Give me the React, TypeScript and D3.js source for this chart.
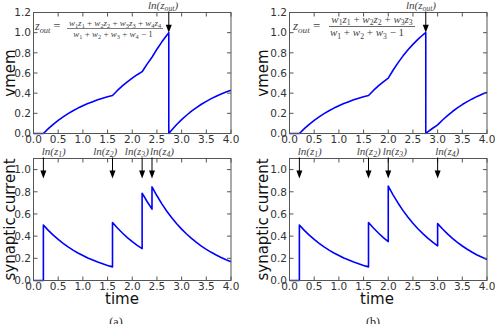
import React from 'react';
import * as d3 from 'd3';

type Pt = [number, number];

const xTicks = [0, 0.5, 1, 1.5, 2, 2.5, 3, 3.5, 4];
const vmemTicks = [0, 0.2, 0.4, 0.6, 0.8, 1.0, 1.2];
const currentTicks = [0, 0.2, 0.4, 0.6, 0.8, 1.0];

// membrane potential, case (a): four inputs
const vmemA: Pt[] = [
  [0, 0], [0.2, 0], [0.3, 0.048], [0.4, 0.091], [0.5, 0.13], [0.6, 0.165], [0.7, 0.197],
  [0.8, 0.226], [0.9, 0.252], [1.0, 0.275], [1.1, 0.297], [1.2, 0.316], [1.3, 0.334],
  [1.4, 0.349], [1.5, 0.364], [1.6, 0.377], [1.7, 0.427], [1.8, 0.472], [1.9, 0.513],
  [2.0, 0.549], [2.1, 0.583], [2.2, 0.613], [2.3, 0.688], [2.4, 0.756], [2.5, 0.836],
  [2.6, 0.909], [2.7, 0.975], [2.74, 1.0], [2.74, 0], [2.8, 0.035], [2.9, 0.089],
  [3.0, 0.137], [3.1, 0.181], [3.2, 0.221], [3.3, 0.257], [3.4, 0.29], [3.5, 0.319],
  [3.6, 0.346], [3.7, 0.37], [3.8, 0.392], [3.9, 0.412], [4.0, 0.43],
];

const currentA: Pt[] = [
  [0, 0], [0.2, 0], [0.2, 0.5], [0.3, 0.452], [0.4, 0.409], [0.5, 0.37], [0.6, 0.335],
  [0.7, 0.303], [0.8, 0.274], [0.9, 0.248], [1.0, 0.225], [1.1, 0.203], [1.2, 0.184],
  [1.3, 0.166], [1.4, 0.151], [1.5, 0.136], [1.6, 0.123], [1.6, 0.523], [1.7, 0.473],
  [1.8, 0.428], [1.9, 0.387], [2.0, 0.351], [2.1, 0.317], [2.2, 0.287], [2.2, 0.787],
  [2.3, 0.712], [2.4, 0.644], [2.4, 0.844], [2.5, 0.764], [2.6, 0.691], [2.7, 0.625],
  [2.8, 0.566], [2.9, 0.512], [3.0, 0.463], [3.1, 0.419], [3.2, 0.379], [3.3, 0.343],
  [3.4, 0.31], [3.5, 0.281], [3.6, 0.254], [3.7, 0.23], [3.8, 0.208], [3.9, 0.188],
  [4.0, 0.17],
];

// case (b): three inputs before the output spike, one after
const vmemB: Pt[] = [
  [0, 0], [0.2, 0], [0.3, 0.048], [0.4, 0.091], [0.5, 0.13], [0.6, 0.165], [0.7, 0.197],
  [0.8, 0.226], [0.9, 0.252], [1.0, 0.275], [1.1, 0.297], [1.2, 0.316], [1.3, 0.334],
  [1.4, 0.349], [1.5, 0.364], [1.6, 0.377], [1.7, 0.427], [1.8, 0.472], [1.9, 0.513],
  [2.0, 0.549], [2.1, 0.63], [2.2, 0.703], [2.3, 0.77], [2.4, 0.83], [2.5, 0.884],
  [2.6, 0.933], [2.7, 0.977], [2.76, 1.0], [2.76, 0], [2.8, 0.016], [2.9, 0.052],
  [3.0, 0.085], [3.1, 0.134], [3.2, 0.178], [3.3, 0.218], [3.4, 0.254], [3.5, 0.287],
  [3.6, 0.316], [3.7, 0.343], [3.8, 0.368], [3.9, 0.389], [4.0, 0.409],
];

const currentB: Pt[] = [
  [0, 0], [0.2, 0], [0.2, 0.5], [0.3, 0.452], [0.4, 0.409], [0.5, 0.37], [0.6, 0.335],
  [0.7, 0.303], [0.8, 0.274], [0.9, 0.248], [1.0, 0.225], [1.1, 0.203], [1.2, 0.184],
  [1.3, 0.166], [1.4, 0.151], [1.5, 0.136], [1.6, 0.123], [1.6, 0.523], [1.7, 0.473],
  [1.8, 0.428], [1.9, 0.387], [2.0, 0.351], [2.0, 0.851], [2.1, 0.77], [2.2, 0.697],
  [2.3, 0.63], [2.4, 0.57], [2.5, 0.516], [2.6, 0.467], [2.7, 0.423], [2.8, 0.382],
  [2.9, 0.346], [3.0, 0.313], [3.0, 0.513], [3.1, 0.464], [3.2, 0.42], [3.3, 0.38],
  [3.4, 0.344], [3.5, 0.311], [3.6, 0.282], [3.7, 0.255], [3.8, 0.23], [3.9, 0.209],
  [4.0, 0.189],
];

// input spike times (ln z_i) and output spike time (ln z_out)
const inputTimesA = [0.2, 1.6, 2.2, 2.4];
const inputTimesB = [0.2, 1.6, 2.0, 3.0];
const outputTimeA = 2.74;
const outputTimeB = 2.76;

// where each arrow label starts, in time units
const inputLabelAtA = [0.166, 1.21, 1.85, 2.36];
const inputLabelAtB = [0.166, 1.36, 1.89, 2.95];
const outputLabelAtA = 2.32;
const outputLabelAtB = 2.36;

const BLUE = '#0000ff';
const FRAME = '#555';
const SANS = 'DejaVu Sans, sans-serif';
const SERIF = 'Liberation Serif, serif';

type Run = { t: string; it?: boolean; sub?: boolean };

function MathText({ runs, x, y, size, anchor = 'start', fill = '#444' }:
  { runs: Run[]; x: number; y: number; size: number; anchor?: string; fill?: string }) {
  let shift = 0;
  const d = size * 0.25;
  return (
    <text x={x} y={y} fontSize={size} fontFamily={SERIF} fill={fill} textAnchor={anchor}
      style={{ whiteSpace: 'pre' }}>
      {runs.map((r, i) => {
        const target = r.sub ? d : 0;
        const dy = target - shift;
        shift = target;
        return (
          <tspan key={i} dy={dy !== 0 ? dy : undefined}
            fontStyle={r.it ? 'italic' : 'normal'}
            fontSize={r.sub ? size * 0.7 : undefined}>{r.t}</tspan>
        );
      })}
    </text>
  );
}

const lnz = (sub: string): Run[] => [{ t: 'ln(z', it: true }, { t: sub, it: true, sub: true }, { t: ')', it: true }];
const wz = (i: number): Run[] => [
  { t: 'w', it: true }, { t: String(i), sub: true }, { t: 'z', it: true }, { t: String(i), sub: true },
];
const w = (i: number): Run[] => [{ t: 'w', it: true }, { t: String(i), sub: true }];
const joinPlus = (parts: Run[][]): Run[] =>
  parts.flatMap((p, i) => (i === 0 ? p : [{ t: ' + ' }, ...p]));

function Arrow({ x, y1, y2 }: { x: number; y1: number; y2: number }) {
  const head = 8;
  return (
    <g>
      <line x1={x} x2={x} y1={y1} y2={y2 - head + 1} stroke="#000" strokeWidth={1} />
      <polygon points={`${x - 3},${y2 - head} ${x + 3},${y2 - head} ${x},${y2}`} fill="#000" />
    </g>
  );
}

type PanelProps = {
  x0: number; x1: number; y0: number; y1: number; yMax: number;
  yTicks: number[]; data: Pt[]; yLabel: string; yLabelX: number;
  children?: (sx: d3.ScaleLinear<number, number>, sy: d3.ScaleLinear<number, number>) => React.ReactNode;
};

function Panel({ x0, x1, y0, y1, yMax, yTicks, data, yLabel, yLabelX, children }: PanelProps) {
  const sx = d3.scaleLinear().domain([0, 4]).range([x0, x1]);
  const sy = d3.scaleLinear().domain([0, yMax]).range([y1, y0]);
  const line = d3.line<Pt>().x(d => sx(d[0])).y(d => sy(d[1]));
  const tk = 4;
  return (
    <g>
      <path d={line(data) ?? ''} fill="none" stroke={BLUE} strokeWidth={1.6} strokeLinejoin="round" />
      <rect x={x0} y={y0} width={x1 - x0} height={y1 - y0} fill="none" stroke={FRAME} strokeWidth={1} />
      {xTicks.map(t => (
        <g key={'x' + t}>
          <line x1={sx(t)} x2={sx(t)} y1={y1} y2={y1 - tk} stroke={FRAME} />
          <line x1={sx(t)} x2={sx(t)} y1={y0} y2={y0 + tk} stroke={FRAME} />
          <text x={sx(t)} y={y1 + 9} fontSize={10.5} fontFamily={SANS} fill="#333"
            textAnchor="middle">{t.toFixed(1)}</text>
        </g>
      ))}
      {yTicks.map(t => (
        <g key={'y' + t}>
          <line x1={x0} x2={x0 + tk} y1={sy(t)} y2={sy(t)} stroke={FRAME} />
          <line x1={x1} x2={x1 - tk} y1={sy(t)} y2={sy(t)} stroke={FRAME} />
          <text x={x0 - 2.5} y={sy(t) + 3.8} fontSize={10.5} fontFamily={SANS} fill="#333"
            textAnchor="end">{t.toFixed(1)}</text>
        </g>
      ))}
      <text transform={`translate(${yLabelX},${(y0 + y1) / 2}) rotate(-90)`} fontSize={15}
        fontFamily={SANS} fill="#111" textAnchor="middle">{yLabel}</text>
      {children && children(sx, sy)}
    </g>
  );
}

export default function App() {
  const L = { x0: 33.5, x1: 231 };
  const R = { x0: 289.5, x1: 487 };
  const top = { y0: 12.5, y1: 133.5, yMax: 1.2, yTicks: vmemTicks, yLabel: 'vmem' };
  const bot = { y0: 158.5, y1: 280.5, yMax: 1.1, yTicks: currentTicks, yLabel: 'synaptic current' };

  const outputArrow = (time: number, labelAt: number) =>
    (sx: d3.ScaleLinear<number, number>, sy: d3.ScaleLinear<number, number>) => (
      <g>
        <Arrow x={sx(time)} y1={top.y0 - 1} y2={sy(1.0)} />
        <MathText runs={lnz('out')} x={sx(labelAt)} y={8.5} size={11} />
      </g>
    );

  const inputArrows = (times: number[], labelAt: number[]) =>
    (sx: d3.ScaleLinear<number, number>, sy: d3.ScaleLinear<number, number>) => (
      <g>
        {times.map((t, i) => (
          <g key={i}>
            <Arrow x={sx(t)} y1={bot.y0 - 1} y2={sy(0.92)} />
            <MathText runs={lnz(String(i + 1))} x={sx(labelAt[i])} y={154.5} size={11} />
          </g>
        ))}
      </g>
    );

  const numA = joinPlus([wz(1), wz(2), wz(3), wz(4)]);
  const denA: Run[] = [...joinPlus([w(1), w(2), w(3), w(4)]), { t: ' − 1' }];
  const numB = joinPlus([wz(1), wz(2), wz(3)]);
  const denB: Run[] = [...joinPlus([w(1), w(2), w(3)]), { t: ' − 1' }];

  return (
    <svg width={495} height={324} style={{ position: 'absolute', left: 0, top: 0, background: '#fff' }}>
      <Panel {...L} {...top} data={vmemA} yLabelX={15}>
        {outputArrow(outputTimeA, outputLabelAtA)}
      </Panel>
      <Panel {...R} {...top} data={vmemB} yLabelX={268}>
        {outputArrow(outputTimeB, outputLabelAtB)}
      </Panel>
      <Panel {...L} {...bot} data={currentA} yLabelX={15}>
        {inputArrows(inputTimesA, inputLabelAtA)}
      </Panel>
      <Panel {...R} {...bot} data={currentB} yLabelX={268}>
        {inputArrows(inputTimesB, inputLabelAtB)}
      </Panel>

      {/* output-time formulas */}
      <MathText runs={[{ t: 'z', it: true }, { t: 'out', it: true, sub: true }, { t: ' =' }]}
        x={35} y={30} size={12} />
      <MathText runs={numA} x={115} y={25.5} size={9} anchor="middle" />
      <line x1={67} x2={163} y1={28.5} y2={28.5} stroke="#444" strokeWidth={0.7} />
      <MathText runs={denA} x={113} y={36.5} size={9} anchor="middle" />

      <MathText runs={[{ t: 'z', it: true }, { t: 'out', it: true, sub: true }, { t: ' =' }]}
        x={293} y={30} size={13} />
      <MathText runs={numB} x={372} y={22.5} size={11} anchor="middle" />
      <line x1={329} x2={415} y1={26.5} y2={26.5} stroke="#444" strokeWidth={0.8} />
      <MathText runs={denB} x={367} y={36} size={11} anchor="middle" />

      <text x={122} y={304} fontSize={15} fontFamily={SANS} fill="#111" textAnchor="middle">time</text>
      <text x={377} y={304} fontSize={15} fontFamily={SANS} fill="#111" textAnchor="middle">time</text>
      <text x={116} y={326} fontSize={12} fontFamily={SERIF} fill="#222" textAnchor="middle">(a)</text>
      <text x={373} y={326} fontSize={12} fontFamily={SERIF} fill="#222" textAnchor="middle">(b)</text>
    </svg>
  );
}
